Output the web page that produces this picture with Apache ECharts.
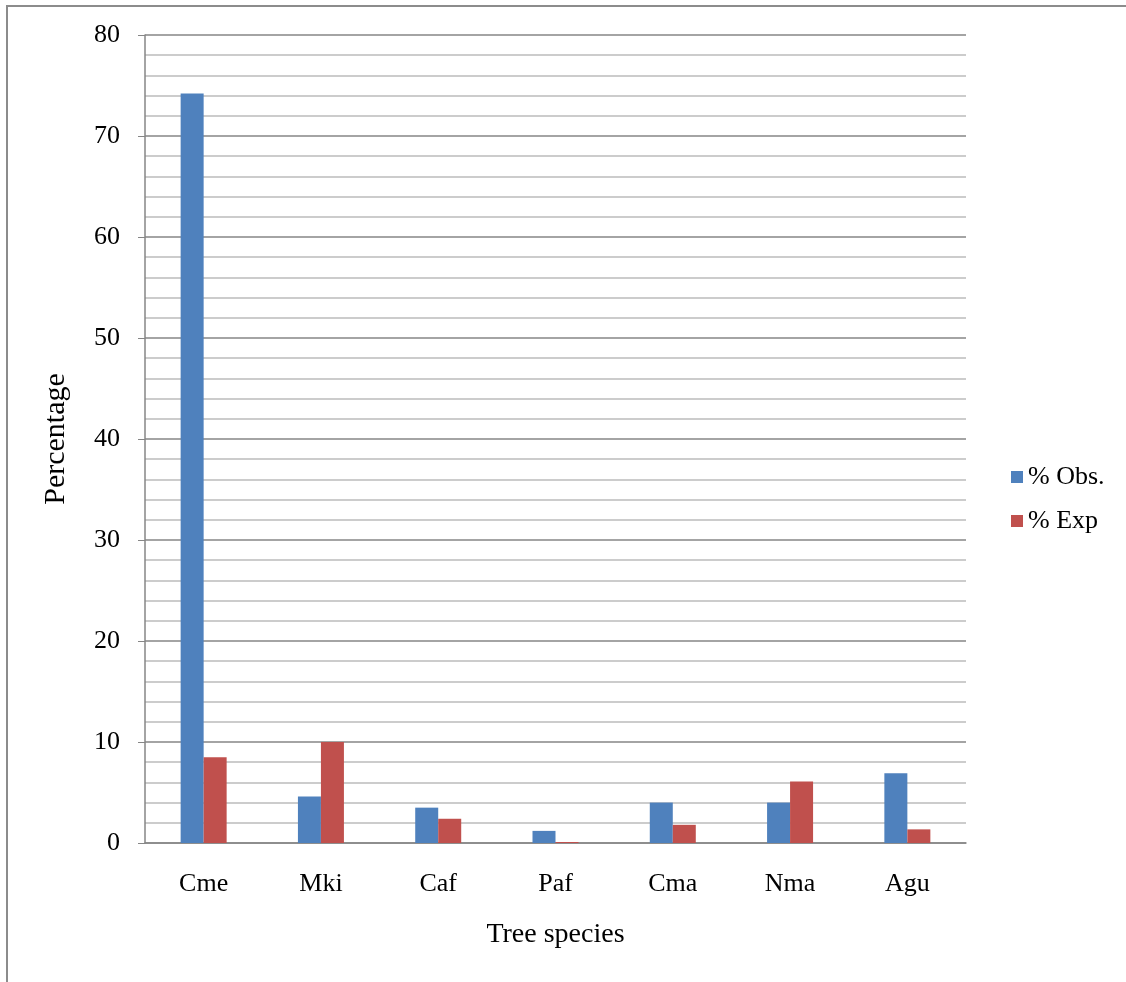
<!DOCTYPE html>
<html>
<head>
<meta charset="utf-8">
<script src="https://cdn.jsdelivr.net/npm/echarts@6/dist/echarts.min.js"></script>
<style>
html,body{margin:0;padding:0;background:#fff;}
#chart{width:1126px;height:982px;}
</style>
</head>
<body>
<div id="chart"></div>
<script>
var categories = ['Cme', 'Mki', 'Caf', 'Paf', 'Cma', 'Nma', 'Agu'];
var obsValues = [74.2, 4.6, 3.5, 1.2, 4.0, 4.0, 6.9];
var expValues = [8.5, 10.0, 2.4, 0.1, 1.8, 6.1, 1.35];
var seriesNames = ['% Obs.', '% Exp'];

var font = '"Liberation Serif", "Times New Roman", serif';
var chart = echarts.init(document.getElementById('chart'));
chart.setOption({
  animation: false,
  textStyle: { fontFamily: font, color: '#000' },
  graphic: [{
    type: 'polyline',
    shape: { points: [[7, 982], [7, 6], [1126, 6]] },
    style: { stroke: '#8c8c8c', lineWidth: 2, fill: null }
  }],
  grid: { left: 145, right: 160, top: 35, bottom: 139, containLabel: false },
  legend: {
    orient: 'vertical',
    left: 1006,
    top: 459,
    itemWidth: 12,
    itemHeight: 12,
    itemGap: 18,
    icon: 'rect',
    textStyle: { fontFamily: font, fontSize: 26, color: '#000' },
    data: seriesNames
  },
  xAxis: {
    type: 'category',
    data: categories,
    name: 'Tree species',
    nameLocation: 'middle',
    nameGap: 78,
    nameTextStyle: { fontFamily: font, fontSize: 28, color: '#000' },
    axisLine: { lineStyle: { color: '#868686', width: 1.5 } },
    axisTick: { show: false },
    axisLabel: { fontFamily: font, fontSize: 26, color: '#000', margin: 28 }
  },
  yAxis: {
    type: 'value',
    min: 0,
    max: 80,
    interval: 10,
    name: 'Percentage',
    nameLocation: 'middle',
    nameGap: 74,
    nameTextStyle: { fontFamily: font, fontSize: 30, color: '#000' },
    axisLine: { show: true, lineStyle: { color: '#868686', width: 1.5 } },
    axisTick: { show: true, inside: false, length: 7, lineStyle: { color: '#868686' } },
    axisLabel: { fontFamily: font, fontSize: 26, color: '#000', margin: 25 },
    splitLine: { show: true, lineStyle: { color: '#868686', width: 1.5 } },
    minorTick: { show: false, splitNumber: 5 },
    minorSplitLine: { show: true, lineStyle: { color: '#bcbcbc', width: 1.5 } }
  },
  series: [
    {
      name: seriesNames[0],
      type: 'bar',
      data: obsValues,
      barWidth: 23,
      barGap: '0%',
      itemStyle: { color: '#4F81BD' }
    },
    {
      name: seriesNames[1],
      type: 'bar',
      data: expValues,
      barWidth: 23,
      barGap: '0%',
      itemStyle: { color: '#C0504D' }
    }
  ]
});
</script>
</body>
</html>
